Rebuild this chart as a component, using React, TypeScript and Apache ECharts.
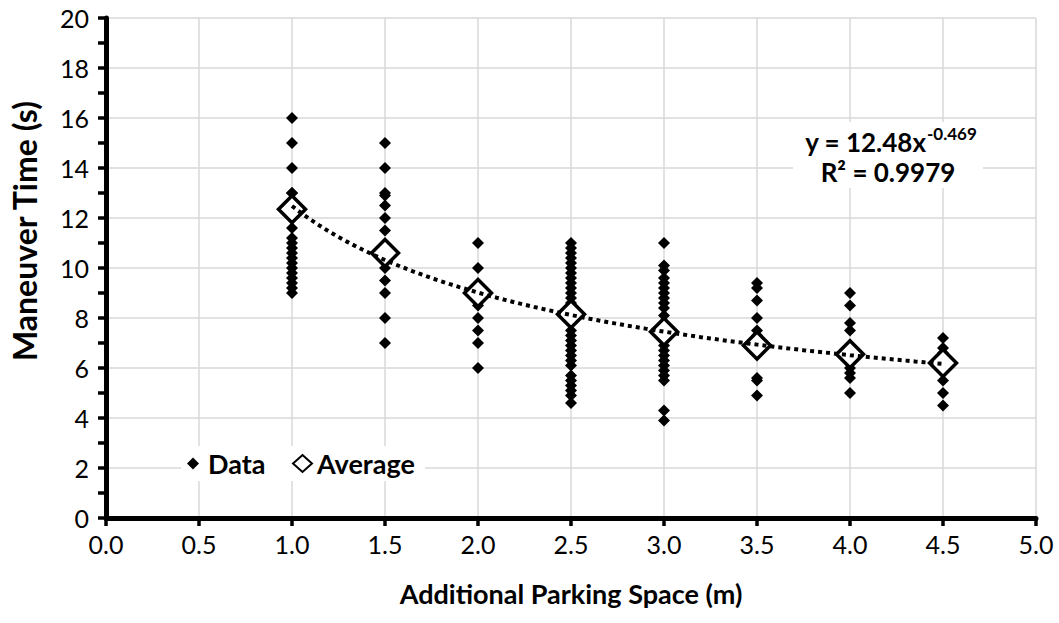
import React, { useEffect, useRef } from "react";
import * as echarts from "echarts";

// Additional parking space categories (m)
const spaces = [1.0, 1.5, 2.0, 2.5, 3.0, 3.5, 4.0, 4.5];

// Observed manoeuvre times (s) per category
const times10 = [16, 15, 14, 13, 13, 11.6, 11.2, 11, 10.8, 10.6, 10.4, 10.2, 10, 9.8, 9.6, 9.4, 9.2, 9];
const times15 = [15, 14, 13, 12.9, 12.5, 12, 11.5, 10.5, 10, 9.5, 9, 8, 7];
const times20 = [11, 10, 9, 8.5, 8, 7.5, 7, 6];
const times25 = [11, 10.8, 10.6, 10.4, 10.2, 10, 9.8, 9.6, 9.4, 9.2, 9, 8.8, 8.6, 7.5, 7.3, 7.1, 6.9, 6.7, 6.5, 6.3, 6.1, 5.7, 5.5, 5.3, 5.1, 4.9, 4.6];
const times30 = [11, 10.1, 9.9, 9.6, 9.4, 9.2, 9, 8.8, 8.6, 8.4, 8.1, 6.9, 6.7, 6.5, 6.3, 6.1, 5.9, 5.7, 5.5, 4.3, 3.9];
const times35 = [9.4, 9.2, 8.7, 8.0, 7.5, 7.3, 6.6, 5.6, 5.5, 4.9];
const times40 = [9, 8.5, 7.8, 7.5, 6.2, 6.0, 5.8, 5.6, 5.0];
const times45 = [7.2, 6.8, 6.6, 5.5, 5.0, 4.5];
const timesByCategory = [times10, times15, times20, times25, times30, times35, times40, times45];

// Average manoeuvre time per category (s)
const averages = [12.35, 10.6, 9.0, 8.15, 7.45, 6.9, 6.55, 6.2];

// Power trend line y = a * x^b (as printed on the chart)
const trendCoef = [12.48, -0.469];
const trendRange = [1.0, 4.5];

const xTicks = [0, 5, 0.5];
const yTicks = [0, 20, 2];

const FONT = "Lato, 'Open Sans', sans-serif";

export default function App() {
  const ref = useRef<HTMLDivElement>(null);

  useEffect(() => {
    if (!ref.current) return;
    const chart = echarts.init(ref.current, undefined, { renderer: "svg" });

    const dataPts: number[][] = [];
    timesByCategory.forEach((arr, i) => arr.forEach((t) => dataPts.push([spaces[i], t])));
    const avgPts = spaces.map((x, i) => [x, averages[i]]);
    const trendPts: number[][] = [];
    const steps = 70;
    for (let k = 0; k <= steps; k++) {
      const x = trendRange[0] + ((trendRange[1] - trendRange[0]) * k) / steps;
      trendPts.push([x, trendCoef[0] * Math.pow(x, trendCoef[1])]);
    }

    const gridColor = "#d9d9d9";
    const legendText = { fontFamily: FONT, fontSize: 27, fontWeight: "bold", color: "#000" };
    const axisLineStyle = { color: "#000", width: 5, opacity: 1 };
    const tickStyle = { color: "#000", width: 3.5, opacity: 1 };

    chart.setOption({
      animation: false,
      grid: { left: 102, right: 23, top: 18, bottom: 105 },
      xAxis: {
        type: "value",
        min: xTicks[0],
        max: xTicks[1],
        interval: xTicks[2],
        name: "Additional Parking Space (m)",
        nameLocation: "middle",
        nameGap: 62,
        nameTextStyle: { fontFamily: FONT, fontSize: 27, fontWeight: "bold", color: "#000" },
        axisLine: { show: true, onZero: false, lineStyle: axisLineStyle },
        axisTick: { show: true, inside: false, length: 8, lineStyle: tickStyle },
        axisLabel: {
          fontFamily: FONT,
          fontSize: 25,
          color: "#000",
          margin: 13,
          formatter: (v: number) => v.toFixed(1),
        },
        splitLine: { show: true, showMinLine: false, lineStyle: { color: gridColor, width: 1.5 } },
      },
      yAxis: {
        type: "value",
        min: yTicks[0],
        max: yTicks[1],
        interval: yTicks[2],
        name: "Maneuver Time (s)",
        nameLocation: "middle",
        nameGap: 66,
        nameTextStyle: {
          fontFamily: FONT,
          fontSize: 32,
          fontWeight: "bold",
          color: "#000",
          padding: [0, 0, 0, 74],
        },
        axisLine: { show: true, onZero: false, lineStyle: axisLineStyle },
        axisTick: { show: true, inside: false, length: 8, lineStyle: tickStyle },
        minorTick: { show: true, splitNumber: 2, length: 8, lineStyle: tickStyle },
        axisLabel: { fontFamily: FONT, fontSize: 25, color: "#000", margin: 17 },
        splitLine: { show: true, showMinLine: false, lineStyle: { color: gridColor, width: 1.5 } },
      },
      legend: [
        {
          data: [{ name: "Data", icon: "diamond" }],
          left: 181,
          top: 446,
          itemWidth: 12,
          itemHeight: 12,
          padding: [4, 22, 4, 6],
          backgroundColor: "#fff",
          textStyle: { ...legendText, padding: [0, 0, 0, 4] },
        },
        {
          data: [{ name: "Average", icon: "diamond" }],
          left: 284,
          top: 446,
          itemWidth: 19,
          itemHeight: 17,
          padding: [4, 10, 4, 8],
          backgroundColor: "#fff",
          textStyle: legendText,
        },
      ],
      series: [
        {
          name: "Data",
          type: "scatter",
          data: dataPts,
          symbol: "diamond",
          symbolSize: 12,
          itemStyle: { color: "#000", opacity: 1 },
          z: 2,
        },
        {
          name: "Average",
          type: "scatter",
          data: avgPts,
          symbol: "diamond",
          symbolSize: 27,
          itemStyle: { color: "#fff", borderColor: "#000", borderWidth: 3.5, opacity: 1 },
          z: 3,
        },
        {
          name: "Trend",
          type: "line",
          data: trendPts,
          showSymbol: false,
          symbol: "none",
          lineStyle: { color: "#000", width: 4, type: [4, 4] },
          z: 4,
          silent: true,
        },
      ],
      graphic: [
        {
          type: "rect",
          shape: { x: 793, y: 122, width: 190, height: 66 },
          style: { fill: "#fff" },
          z: 10,
        },
        {
          type: "text",
          x: 926,
          y: 142,
          style: {
            text: "y = 12.48x",
            fontFamily: FONT,
            fontSize: 26,
            fontWeight: "bold",
            fill: "#000",
            align: "right",
            verticalAlign: "middle",
          },
          z: 11,
        },
        {
          type: "text",
          x: 927,
          y: 133,
          style: {
            text: "-0.469",
            fontFamily: FONT,
            fontSize: 17,
            fontWeight: "bold",
            fill: "#000",
            align: "left",
            verticalAlign: "middle",
          },
          z: 11,
        },
        {
          type: "text",
          x: 888,
          y: 172,
          style: {
            text: "R² = 0.9979",
            fontFamily: FONT,
            fontSize: 26,
            fontWeight: "bold",
            fill: "#000",
            align: "center",
            verticalAlign: "middle",
          },
          z: 11,
        },
      ],
    });

    return () => chart.dispose();
  }, []);

  return (
    <div
      ref={ref}
      style={{ position: "fixed", left: 0, top: 0, width: 1059, height: 623, background: "#fff" }}
    />
  );
}
